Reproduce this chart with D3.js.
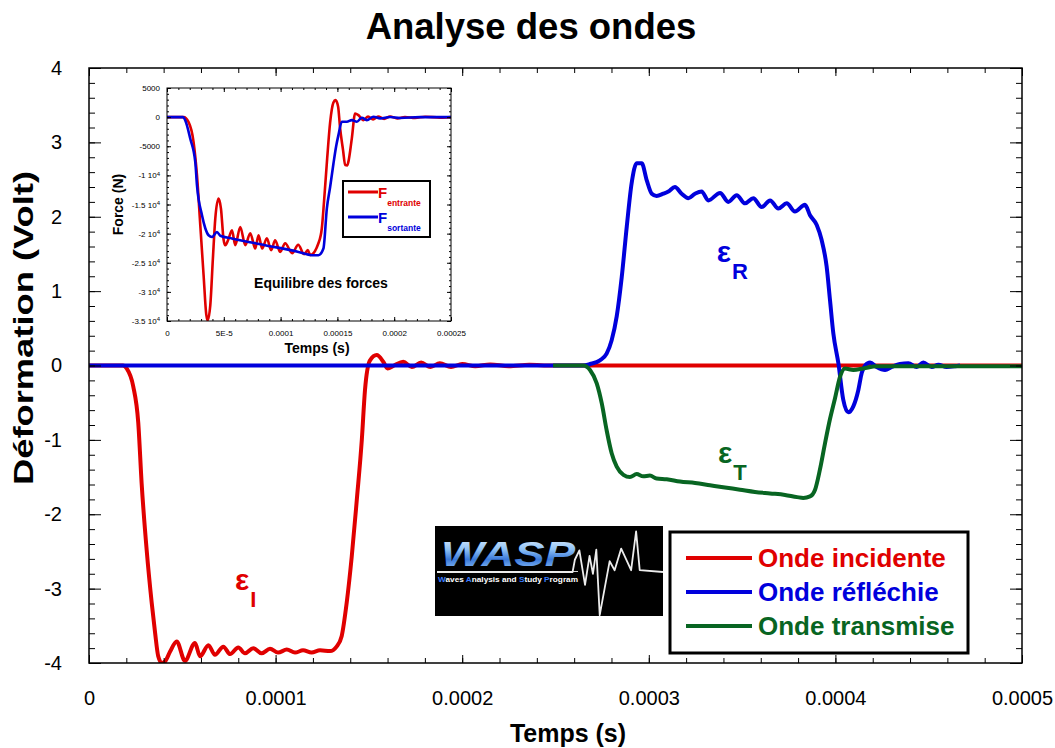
<!DOCTYPE html>
<html><head><meta charset="utf-8">
<script src="https://cdn.jsdelivr.net/npm/d3@7"></script>
<style>
body{margin:0;background:#fff}
text{font-family:Arial,"Liberation Sans",Helvetica,sans-serif}
</style></head>
<body><svg id="c" width="1055" height="748"></svg>
<script>
// ---------- DATA ----------
const chartTitle = "Analyse des ondes";
const xTickValues = [0, 0.0001, 0.0002, 0.0003, 0.0004, 0.0005];
const xTickLabels = ["0", "0.0001", "0.0002", "0.0003", "0.0004", "0.0005"];
const yTickValues = [-4, -3, -2, -1, 0, 1, 2, 3, 4];
const yTickLabels = ["-4", "-3", "-2", "-1", "0", "1", "2", "3", "4"];
const seriesNames = ["Onde incidente", "Onde réfléchie", "Onde transmise"];
const seriesColors = ["#e00000", "#0000dc", "#086522"];

// incident wave (time in microseconds, deformation in volt)
const incidentTimeUs = [0,18.2,20.2,23.7,26.4,28.2,30.9,33.6,35.4,37.1,39.0,40.7,43.4,47.0,51.4,56.8,59.5,64.0,67.5,72.0,75.6,80.0,83.6,88.0,92.5,97.0,101.3,106.0,110.4,114.7,119.3,123.8,129.2,132.7,135.4,138.1,140.8,143.5,146.2,147.9,150.6,154.2,157.7,160.0,163.5,168.4,173.0,178.0,183.0,188.0,194.0,200.0,207.0,215.0,225.0,236.0,248.0,500.0];
const incidentVolt = [0,0,-0.04,-0.28,-0.77,-1.58,-2.48,-3.19,-3.59,-3.91,-4.0,-3.98,-3.85,-3.71,-3.97,-3.73,-3.91,-3.76,-3.89,-3.78,-3.88,-3.79,-3.87,-3.80,-3.87,-3.81,-3.86,-3.82,-3.86,-3.83,-3.86,-3.83,-3.84,-3.78,-3.64,-3.19,-2.57,-1.81,-1.0,-0.33,0.07,0.14,0.05,-0.04,0.0,0.05,-0.02,0.04,-0.02,0.03,-0.02,0.02,-0.01,0.015,-0.01,0.01,0,0];

// reflected wave
const reflectedTimeUs = [0,264.7,268.5,273.8,277.4,280.1,282.8,285.5,288.2,290.8,293.5,296.2,298.9,301.6,304.2,307.8,310.5,314.0,317.6,321.2,324.8,328.3,331.9,338.2,342.6,347.1,351.6,356.0,360.5,365.0,369.4,373.9,378.3,383.7,386.4,390.0,392.6,395.3,397.1,398.9,401.6,404.2,406.9,409.6,412.3,414.1,415.9,418.6,422.1,426.6,430.2,434.6,439.1,443.6,447.1,451.6,455.2,459.6,464.1,466.8];
const reflectedVolt = [0,0,0.02,0.07,0.16,0.34,0.66,1.19,1.87,2.45,2.72,2.72,2.49,2.31,2.28,2.31,2.34,2.40,2.31,2.25,2.31,2.34,2.22,2.32,2.20,2.29,2.18,2.25,2.13,2.22,2.11,2.18,2.07,2.16,2.02,1.89,1.69,1.33,0.88,0.43,0.03,-0.46,-0.63,-0.55,-0.33,-0.10,0.0,0.04,-0.02,-0.06,-0.02,0.02,0.03,-0.02,0.04,-0.02,0.01,-0.02,-0.01,0];

// transmitted wave
const transmittedTimeUs = [248.7,264.9,268.5,272.1,274.8,277.4,280.1,282.8,286.4,289.9,293.5,297.0,300.6,304.2,309.6,316.7,324.8,332.8,340.8,348.9,356.9,365.0,373.0,379.5,382.8,386.4,389.1,391.7,394.4,397.1,399.8,402.5,405.1,409.6,415.0,422.1,500];
const transmittedVolt = [0,0,-0.06,-0.24,-0.51,-0.87,-1.18,-1.36,-1.47,-1.50,-1.46,-1.49,-1.48,-1.52,-1.53,-1.56,-1.58,-1.61,-1.64,-1.67,-1.70,-1.72,-1.74,-1.77,-1.78,-1.76,-1.67,-1.40,-1.05,-0.72,-0.44,-0.15,-0.04,-0.06,-0.04,-0.01,-0.01];

// inset: force equilibrium (time in microseconds, force in newton)
const insetTitle = "Equilibre des forces";
const insetXTickValues = [0, 0.00005, 0.0001, 0.00015, 0.0002, 0.00025];
const insetXTickLabels = ["0", "5E-5", "0.0001", "0.00015", "0.0002", "0.00025"];
const insetYTickValues = [5000, 0, -5000, -10000, -15000, -20000, -25000, -30000, -35000];
const insetSeriesSubs = ["entrante", "sortante"];
const forceInTimeUs = [0,14.6,19,23.4,26.4,29.3,32.2,34.6,35.7,38.1,40.4,42.5,45.4,47.5,49.8,51.3,54.0,57.2,60.1,64.5,68.9,73.3,77.7,80.6,83.8,87.9,91.7,95.2,99.6,104,110.2,115.5,120.7,124,126,133.3,136.3,138.3,141,143.6,146.5,148.3,150.6,152.4,155,156.8,158.6,159.7,162.7,165.6,168.5,172.9,177,181.4,185.8,191.1,196.4,202.5,209.5,218.4,227.2,240.3,250];
const forceInN = [0,0,-860,-4280,-10000,-18550,-27100,-33950,-34900,-32300,-24270,-17420,-13990,-15700,-21000,-21990,-21000,-19420,-21990,-18850,-21990,-19930,-22560,-20280,-22560,-20790,-22850,-21140,-23140,-21650,-23360,-21900,-23530,-22800,-23700,-21650,-19080,-14310,-7080,-910,2520,2910,1830,-1940,-5700,-8230,-8280,-7640,-3650,630,340,-510,120,-390,100,-300,120,-220,30,-140,70,-85,0];
const forceOutTimeUs = [0,14,16.1,20.5,24.9,26.4,30.8,33.7,36.6,39.6,44,46.9,57.2,86.4,115.7,127.5,133.3,137.7,140.7,143.6,146.5,148.9,150.9,153.9,158.3,162.7,167.1,171.5,175.9,181.7,187.6,196.4,205.2,222.8,250];
const forceOutN = [0,0,-570,-3710,-7710,-11700,-16850,-19080,-20280,-20570,-19710,-20360,-20840,-21990,-23140,-23700,-23700,-22560,-15700,-12000,-8000,-5000,-3090,-790,-790,-510,-790,-100,-510,70,-220,30,-140,0,0];

// WASP logo waveform (relative position 0..1, relative amplitude)
const logoWavePos = [0,0.6,0.61,0.63,0.655,0.675,0.69,0.705,0.72,0.742,0.764,0.786,0.815,0.859,0.881,0.897,1];
const logoWaveAmp = [0,0,0.34,0.6,-0.36,0.45,-0.05,0.62,-1.2,-0.45,0.3,0.05,0.65,0.05,1.13,0.05,0];

// ---------- DRAW ----------
const svg = d3.select("#c");
const FONT = 'Arial,"Liberation Sans",sans-serif';
const L = 89, R = 1022, T = 68, B = 663;
const x = d3.scaleLinear().domain([0, 0.0005]).range([L, R]);
const y = d3.scaleLinear().domain([-4, 4]).range([B, T]);
const defs = svg.append("defs");

svg.append("text").attr("x", 531).attr("y", 39).attr("text-anchor", "middle")
  .attr("font-size", 36.5).attr("font-weight", "bold").text(chartTitle);

defs.append("clipPath").attr("id", "plotclip")
  .append("rect").attr("x", L).attr("y", T - 1).attr("width", R - L).attr("height", B - T + 1);

const series = [
  [incidentTimeUs, incidentVolt],
  [reflectedTimeUs, reflectedVolt],
  [transmittedTimeUs, transmittedVolt]
];
const lineGen = d3.line().x(d => x(d[0] * 1e-6)).y(d => y(d[1])).curve(d3.curveMonotoneX);
const plotG = svg.append("g").attr("clip-path", "url(#plotclip)");
series.forEach((s, i) => {
  const pts = s[0].map((t, k) => [t, s[1][k]]);
  plotG.append("path").datum(pts).attr("d", lineGen).attr("fill", "none")
    .attr("stroke", seriesColors[i]).attr("stroke-width", 4).attr("stroke-linejoin", "round");
});

// axes / ticks
const xMinor = d3.range(0, 26).map(i => i * 2e-5);
const yMinor = d3.range(0, 41).map(i => -4 + i * 0.2);
function styleAxis(g, fs) {
  g.select(".domain").remove();
  g.selectAll(".tick line").attr("stroke", "#000");
  g.selectAll(".tick text").attr("font-size", fs).attr("font-family", FONT).attr("fill", "#000");
}
svg.append("g").attr("transform", `translate(0,${B})`)
  .call(d3.axisBottom(x).tickValues(xMinor).tickSize(-5).tickFormat("")).call(g => styleAxis(g, 0));
svg.append("g").attr("transform", `translate(0,${B})`)
  .call(d3.axisBottom(x).tickValues(xTickValues).tickSize(-8).tickPadding(28).tickFormat((d, i) => xTickLabels[i]))
  .call(g => styleAxis(g, 20));
svg.append("g").attr("transform", `translate(0,${T})`)
  .call(d3.axisTop(x).tickValues(xMinor).tickSize(-5).tickFormat("")).call(g => styleAxis(g, 0));
svg.append("g").attr("transform", `translate(0,${T})`)
  .call(d3.axisTop(x).tickValues(xTickValues).tickSize(-8).tickFormat("")).call(g => styleAxis(g, 0));
svg.append("g").attr("transform", `translate(${L},0)`)
  .call(d3.axisLeft(y).tickValues(yMinor).tickSize(-6).tickFormat("")).call(g => styleAxis(g, 0));
svg.append("g").attr("transform", `translate(${L},0)`)
  .call(d3.axisLeft(y).tickValues(yTickValues).tickSize(-12).tickPadding(27).tickFormat((d, i) => yTickLabels[i]))
  .call(g => styleAxis(g, 20));
svg.append("g").attr("transform", `translate(${R},0)`)
  .call(d3.axisRight(y).tickValues(yMinor).tickSize(-6).tickFormat("")).call(g => styleAxis(g, 0));
svg.append("g").attr("transform", `translate(${R},0)`)
  .call(d3.axisRight(y).tickValues(yTickValues).tickSize(-12).tickFormat("")).call(g => styleAxis(g, 0));
svg.append("rect").attr("x", L).attr("y", T).attr("width", R - L).attr("height", B - T)
  .attr("fill", "none").attr("stroke", "#000").attr("stroke-width", 1.5);

// axis titles
svg.append("text").attr("x", 568).attr("y", 742).attr("text-anchor", "middle")
  .attr("font-size", 25).attr("font-weight", "bold").text("Temps (s)");
svg.append("text").attr("transform", `translate(33,328) rotate(-90)`).attr("text-anchor", "middle")
  .attr("font-size", 27).attr("font-weight", "bold")
  .attr("textLength", 314).attr("lengthAdjust", "spacingAndGlyphs").text("Déformation (Volt)");

// epsilon annotations
function eps(tx, vy, sub, color) {
  const t = svg.append("text").attr("x", x(tx)).attr("y", y(vy)).attr("fill", color)
    .attr("font-weight", "bold").attr("font-size", 30);
  t.append("tspan").text("ε");
  t.append("tspan").attr("dy", 17).attr("dx", 1).attr("font-size", 22).text(sub);
}
eps(0.0000782, -3.02, "I", seriesColors[0]);
eps(0.0003364, 1.39, "R", seriesColors[1]);
eps(0.0003371, -1.31, "T", seriesColors[2]);

// main legend
const lg = svg.append("g");
lg.append("rect").attr("x", 670).attr("y", 532).attr("width", 298).attr("height", 121)
  .attr("fill", "#fff").attr("stroke", "#000").attr("stroke-width", 3);
seriesNames.forEach((n, i) => {
  const yy = 558 + i * 34;
  lg.append("line").attr("x1", 686).attr("x2", 752).attr("y1", yy).attr("y2", yy)
    .attr("stroke", seriesColors[i]).attr("stroke-width", 4);
  lg.append("text").attr("x", 758).attr("y", yy + 9).attr("fill", seriesColors[i])
    .attr("font-size", 26).attr("font-weight", "bold").text(n);
});

// WASP logo
const logo = svg.append("g");
const grad = defs.append("linearGradient").attr("id", "wg").attr("x1", 0).attr("y1", 0).attr("x2", 0).attr("y2", 1);
grad.append("stop").attr("offset", "0%").attr("stop-color", "#f2f8ff");
grad.append("stop").attr("offset", "40%").attr("stop-color", "#8cc0f5");
grad.append("stop").attr("offset", "65%").attr("stop-color", "#3a78d8");
grad.append("stop").attr("offset", "100%").attr("stop-color", "#9fd0ff");
logo.append("rect").attr("x", 435).attr("y", 526).attr("width", 228).attr("height", 90).attr("fill", "#000");
logo.append("line").attr("x1", 437).attr("x2", 578).attr("y1", 571.5).attr("y2", 571.5)
  .attr("stroke", "#cfcfcf").attr("stroke-width", 1.2);
logo.append("text").attr("x", 441).attr("y", 566).attr("font-size", 35).attr("font-weight", "bold")
  .attr("font-style", "italic").attr("textLength", 134).attr("lengthAdjust", "spacingAndGlyphs")
  .attr("fill", "url(#wg)").text("WASP");
const tag = logo.append("text").attr("x", 438).attr("y", 582).attr("font-size", 8).attr("font-weight", "bold")
  .attr("fill", "#fff").attr("textLength", 140).attr("lengthAdjust", "spacingAndGlyphs");
[["W","#3a7cff"],["aves ","#fff"],["A","#3a7cff"],["nalysis and ","#fff"],["S","#3a7cff"],["tudy ","#fff"],["P","#3a7cff"],["rogram","#fff"]]
  .forEach(p => tag.append("tspan").attr("fill", p[1]).text(p[0]));
const wx = d3.scaleLinear().domain([0, 1]).range([437, 663]);
const wy = d3.scaleLinear().domain([-1, 1]).range([608, 536]);
logo.append("path").datum(logoWavePos.map((p, i) => [p, logoWaveAmp[i]]))
  .attr("d", d3.line().x(d => wx(d[0])).y(d => wy(d[1])))
  .attr("fill", "none").attr("stroke", "#ececec").attr("stroke-width", 1.8).attr("stroke-linejoin", "round");

// ---------- INSET ----------
const iL = 167, iR = 451, iT = 88, iB = 321;
const xi = d3.scaleLinear().domain([0, 0.00025]).range([iL, iR]);
const yi = d3.scaleLinear().domain([-35000, 5000]).range([iB, iT]);
const ins = svg.append("g");
ins.append("rect").attr("x", iL).attr("y", iT).attr("width", iR - iL).attr("height", iB - iT).attr("fill", "#fff");
defs.append("clipPath").attr("id", "insclip").append("rect")
  .attr("x", iL).attr("y", iT).attr("width", iR - iL).attr("height", iB - iT);
const iLine = d3.line().x(d => xi(d[0] * 1e-6)).y(d => yi(d[1])).curve(d3.curveMonotoneX);
const ip = ins.append("g").attr("clip-path", "url(#insclip)");
[[forceInTimeUs, forceInN, seriesColors[0]], [forceOutTimeUs, forceOutN, seriesColors[1]]].forEach(s => {
  ip.append("path").datum(s[0].map((t, k) => [t, s[1][k]])).attr("d", iLine)
    .attr("fill", "none").attr("stroke", s[2]).attr("stroke-width", 2.6).attr("stroke-linejoin", "round");
});
const ixMinor = d3.range(0, 26).map(i => i * 1e-5);
const iyMinor = d3.range(0, 41).map(i => -35000 + i * 1000);
ins.append("g").attr("transform", `translate(0,${iB})`)
  .call(d3.axisBottom(xi).tickValues(ixMinor).tickSize(-2).tickFormat("")).call(g => styleAxis(g, 0));
ins.append("g").attr("transform", `translate(0,${iB})`)
  .call(d3.axisBottom(xi).tickValues(insetXTickValues).tickSize(-4).tickPadding(9).tickFormat((d, i) => insetXTickLabels[i]))
  .call(g => styleAxis(g, 8));
ins.append("g").attr("transform", `translate(0,${iT})`)
  .call(d3.axisTop(xi).tickValues(ixMinor).tickSize(-2).tickFormat("")).call(g => styleAxis(g, 0));
ins.append("g").attr("transform", `translate(0,${iT})`)
  .call(d3.axisTop(xi).tickValues(insetXTickValues).tickSize(-4).tickFormat("")).call(g => styleAxis(g, 0));
ins.append("g").attr("transform", `translate(${iL},0)`)
  .call(d3.axisLeft(yi).tickValues(iyMinor).tickSize(-2).tickFormat("")).call(g => styleAxis(g, 0));
const iyAx = ins.append("g").attr("transform", `translate(${iL},0)`)
  .call(d3.axisLeft(yi).tickValues(insetYTickValues).tickSize(-4).tickPadding(7).tickFormat(""))
  .call(g => styleAxis(g, 8));
iyAx.selectAll(".tick text").each(function (d) {
  const t = d3.select(this);
  if (Math.abs(d) >= 10000) {
    t.text(null);
    t.append("tspan").text((d / 10000) + " 10");
    t.append("tspan").attr("dy", "-0.45em").attr("font-size", 6).text("4");
  } else t.text(String(d));
});
ins.append("g").attr("transform", `translate(${iR},0)`)
  .call(d3.axisRight(yi).tickValues(iyMinor).tickSize(-2).tickFormat("")).call(g => styleAxis(g, 0));
ins.append("g").attr("transform", `translate(${iR},0)`)
  .call(d3.axisRight(yi).tickValues(insetYTickValues).tickSize(-4).tickFormat("")).call(g => styleAxis(g, 0));
ins.append("rect").attr("x", iL).attr("y", iT).attr("width", iR - iL).attr("height", iB - iT)
  .attr("fill", "none").attr("stroke", "#000").attr("stroke-width", 1);
ins.append("text").attr("x", 317).attr("y", 353).attr("text-anchor", "middle")
  .attr("font-size", 14).attr("font-weight", "bold").text("Temps (s)");
ins.append("text").attr("transform", `translate(123,${(iT + iB) / 2}) rotate(-90)`).attr("text-anchor", "middle")
  .attr("font-size", 14).attr("font-weight", "bold").text("Force (N)");
ins.append("text").attr("x", 321).attr("y", 288).attr("text-anchor", "middle")
  .attr("font-size", 14).attr("font-weight", "bold").text(insetTitle);
// inset legend
ins.append("rect").attr("x", 343).attr("y", 181).attr("width", 87).attr("height", 56)
  .attr("fill", "#fff").attr("stroke", "#000").attr("stroke-width", 2);
insetSeriesSubs.forEach((s, i) => {
  const yy = 192 + i * 25;
  ins.append("line").attr("x1", 348).attr("x2", 378).attr("y1", yy).attr("y2", yy)
    .attr("stroke", seriesColors[i]).attr("stroke-width", 3);
  const t = ins.append("text").attr("x", 378).attr("y", yy + 6).attr("fill", seriesColors[i]).attr("font-weight", "bold").attr("font-size", 15);
  t.append("tspan").text("F");
  t.append("tspan").attr("dy", 8).attr("font-size", 8.5).text(s);
});
</script>
</body></html>
